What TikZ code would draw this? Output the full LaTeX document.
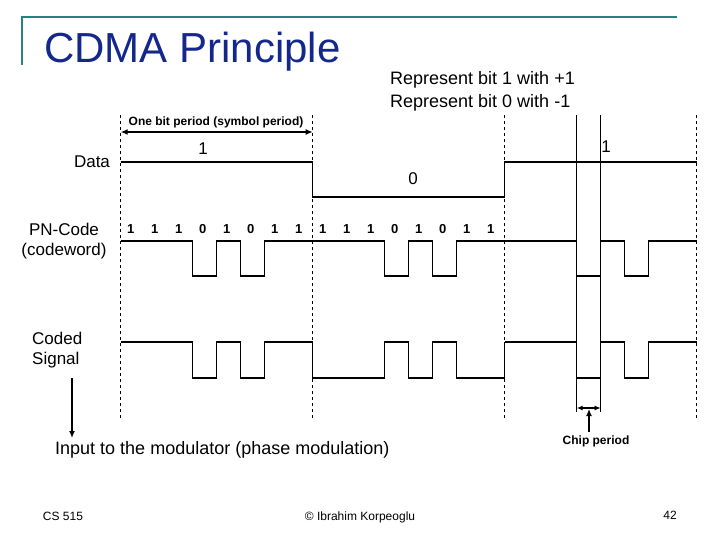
\documentclass[tikz,border=0pt]{standalone}
\usepackage{fontspec}
\setmainfont{Liberation Sans}
\usetikzlibrary{arrows.meta}
\definecolor{teal1}{RGB}{40,130,130}
\definecolor{titleblue}{RGB}{20,40,140}
\begin{document}
\begin{tikzpicture}[x=1pt,y=-1pt,
  wave/.style={line width=1.3pt},
  bitdash/.style={dashed,line width=0.9pt},
  lbl/.style={font=\fontsize{17}{20}\selectfont,inner sep=0pt},
  big/.style={font=\fontsize{18}{22}\selectfont,inner sep=0pt},
  chip/.style={font=\fontsize{13}{15}\selectfont\bfseries,inner sep=0pt},
  small/.style={font=\fontsize{12}{14}\selectfont\bfseries,inner sep=0pt},
  foot/.style={font=\fontsize{12}{14}\selectfont,inner sep=0pt},
  arr/.style={line width=1.3pt,-{Latex[length=7pt,width=6pt]}}]
\useasboundingbox (0,0) rectangle (720,540);
% title frame
\draw[teal1,line width=1.5pt] (22,65) -- (22,17) -- (677,17);
\node[anchor=west,inner sep=0pt,text=titleblue,font=\fontsize{42}{46}\selectfont] (title) at (44,52) {CDMA Principle};
\node[anchor=west,big,align=left] (rep) at (390,91) {Represent bit 1 with +1\\[1pt]Represent bit 0 with -1};
% dashed bit boundaries
\foreach \x/\n in {120.7/d0,312.7/d1,504.7/d2,696.7/d3}{
  \coordinate (\n t) at (\x,115); \coordinate (\n b) at (\x,418);
  \draw[bitdash] (\n t) -- (\n b);}
% one bit arrow
\coordinate (ba) at (120.7,132); \coordinate (bb) at (312.7,132);
\draw[line width=1.3pt,{Latex[length=7pt,width=6pt]}-{Latex[length=7pt,width=6pt]}] (ba) -- (bb);
\node[small] (obp) at (216,122) {One bit period (symbol period)};
% labels
\node[lbl] (data) at (92,162) {Data};
\node[lbl,align=center] (pn) at (64,241) {PN-Code\\(codeword)};
\node[lbl,align=left,anchor=west] (cs) at (32,350) {Coded\\Signal};
\node[lbl] (d1) at (203,149) {1};
\node[lbl] (d0) at (413,179) {0};
\node[lbl] (d3) at (606,147) {1};
% data waveform
\draw[wave] (120.7,162) -- (312.7,162) -- (312.7,197) -- (504.7,197) -- (504.7,162) -- (696.7,162);
% chip labels
\foreach \b in {0,1}{
  \foreach \c [count=\i from 0] in {1,1,1,0,1,0,1,1}{
    \node[chip] (c\b\i) at ({120.7+192*\b+24*\i+10},229) {\c};}}
% PN waveform
\foreach \b in {0,1,2}{
  \pgfmathsetmacro{\s}{120.7+192*\b}
  \draw[wave] (\s,241) -- ++(72,0) -- ++(0,35) -- ++(24,0) -- ++(0,-35) -- ++(24,0) -- ++(0,35) -- ++(24,0) -- ++(0,-35) -- ++(48,0);}
% coded waveform
\foreach \b in {0,2}{
  \pgfmathsetmacro{\s}{120.7+192*\b}
  \draw[wave] (\s,342) -- ++(72,0) -- ++(0,36) -- ++(24,0) -- ++(0,-36) -- ++(24,0) -- ++(0,36) -- ++(24,0) -- ++(0,-36) -- ++(48,0);}
\draw[wave] (312.7,342) -- (312.7,378) -- ++(72,0) -- ++(0,-36) -- ++(24,0) -- ++(0,36) -- ++(24,0) -- ++(0,-36) -- ++(24,0) -- ++(0,36) -- ++(48,0) -- (504.7,342);
% chip period
\coordinate (cpa) at (576.7,115); \coordinate (cpa2) at (576.7,412);
\coordinate (cpb) at (600.7,115); \coordinate (cpb2) at (600.7,412);
\draw[wave] (cpa) -- (cpa2); \draw[wave] (cpb) -- (cpb2);
\coordinate (cl) at (576.7,408); \coordinate (cr) at (600.7,408);
\draw[line width=1.3pt,{Latex[length=6pt,width=5pt]}-{Latex[length=6pt,width=5pt]}] (cl) -- (cr);
\node[small] (chipp) at (596,441) {Chip period};
\coordinate (cpu) at (589,409); \coordinate (cpd) at (589,432);
\draw[arr] (cpd) -- (cpu);
% modulator
\node[big,anchor=west] (mod) at (55,450) {Input to the modulator (phase modulation)};
\coordinate (ms) at (72,378); \coordinate (me) at (72,438);
\draw[arr] (ms) -- (me);
% footer
\node[foot] (cs515) at (63,516) {CS 515};
\node[foot] (auth) at (360,517) {\textcopyright{} Ibrahim Korpeoglu};
\node[foot] (pg) at (670,515) {42};
\end{tikzpicture}
\end{document}
